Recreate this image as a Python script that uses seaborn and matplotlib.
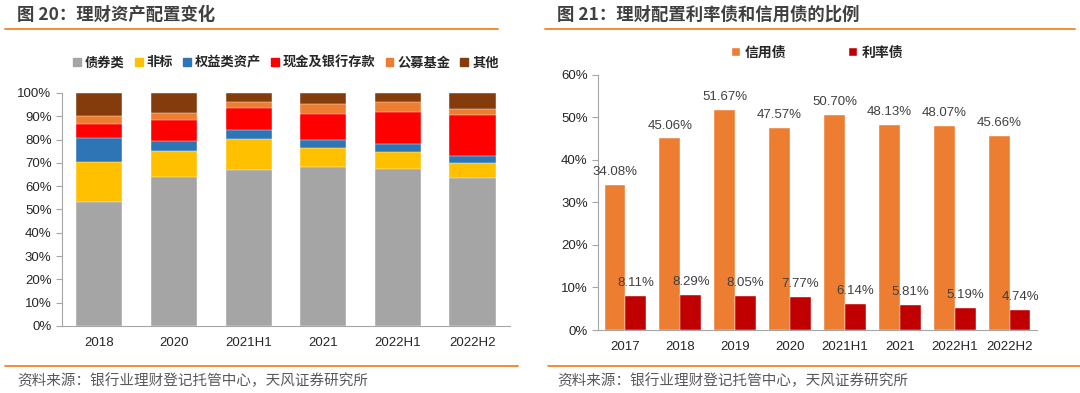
import matplotlib
matplotlib.use("Agg")
import matplotlib.pyplot as plt
import matplotlib.patches as mpatches
from matplotlib.ticker import FixedLocator, PercentFormatter
import numpy as np
import pandas as pd
import seaborn as sns

# ------------------------------
# Data
# ------------------------------
periods_left = ['2018', '2020', '2021H1', '2021', '2022H1', '2022H2']
series_left = ['债券类', '非标', '权益类资产', '现金及银行存款', '公募基金', '其他']
bond = [53.1, 64.1, 66.8, 68.2, 67.5, 63.5]
nonstd = [17.4, 11.0, 13.3, 8.2, 7.2, 6.3]
equity = [10.0, 4.5, 4.2, 3.4, 3.3, 3.2]
cash = [6.0, 9.0, 9.4, 11.3, 14.0, 17.6]
fund = [3.5, 3.0, 2.6, 4.0, 4.0, 2.5]
other = [10.0, 8.4, 3.7, 4.9, 4.0, 6.9]

periods_right = ['2017', '2018', '2019', '2020', '2021H1', '2021', '2022H1', '2022H2']
credit = [34.08, 45.06, 51.67, 47.57, 50.70, 48.13, 48.07, 45.66]
rates = [8.11, 8.29, 8.05, 7.77, 6.14, 5.81, 5.19, 4.74]

colors_left = ['#A5A5A5', '#FFC000', '#2E75B6', '#FF0000', '#ED7D31', '#843C0C']
colors_right = ['#ED7D31', '#C00000']

# ------------------------------
# Style
# ------------------------------
sns.set_style('white')
plt.rcParams['font.family'] = ['Liberation Sans', 'Noto Sans CJK SC', 'DejaVu Sans']
cjk = ['Noto Sans CJK SC', 'DejaVu Sans']
text_dark = '#404040'

fig = plt.figure(figsize=(10.8, 3.93), dpi=100)


def frame_axis(ax, n):
    for side in ['top', 'right']:
        ax.spines[side].set_visible(False)
    for side in ['left', 'bottom']:
        ax.spines[side].set_color('#A6A6A6')
        ax.spines[side].set_linewidth(0.8)
    ax.set_xlim(-0.5, n - 0.5)
    ax.xaxis.set_minor_locator(FixedLocator(np.arange(-0.5, n, 1.0)))
    ax.tick_params(axis='x', which='major', length=0, labelsize=9.5, colors='#262626', pad=8)
    ax.tick_params(axis='x', which='minor', length=4, color='#A6A6A6', direction='out')
    ax.tick_params(axis='y', length=4, color='#A6A6A6', direction='out', labelsize=9.5,
                   labelcolor='#262626', left=True)
    ax.yaxis.set_major_formatter(PercentFormatter(decimals=0))
    ax.set_xlabel('')
    ax.set_ylabel('')


# ------------------------------
# Left: stacked asset allocation
# ------------------------------
axl = fig.add_axes([0.0574, 0.1705, 0.4148, 0.5929])
layers = [bond, nonstd, equity, cash, fund, other]
cum = np.cumsum(np.array(layers), axis=0)
# draw from the tallest cumulative layer down so each visible slice is one series
for i in range(len(layers) - 1, -1, -1):
    df = pd.DataFrame({'period': periods_left, 'value': cum[i]})
    sns.barplot(data=df, x='period', y='value', color=colors_left[i], width=0.62,
                saturation=1, edgecolor='white', linewidth=0.3, ax=axl)
axl.set_ylim(0, 100)
axl.set_yticks(np.arange(0, 101, 10))
frame_axis(axl, len(periods_left))

handles = [mpatches.Patch(color=c, label=s) for c, s in zip(colors_left, series_left)]
leg = axl.legend(handles=handles, loc='lower center', bbox_to_anchor=(0.5, 1.05), ncol=6,
                 frameon=False, handlelength=0.6, handleheight=0.6, handletextpad=0.3,
                 columnspacing=0.75, prop={'family': cjk, 'size': 9.5, 'weight': 'bold'})
for t in leg.get_texts():
    t.set_color('#262626')

# ------------------------------
# Right: credit vs rate bonds
# ------------------------------
axr = fig.add_axes([0.5537, 0.1603, 0.4065, 0.6489])
df_r = pd.DataFrame({
    'period': periods_right * 2,
    'kind': ['信用债'] * len(periods_right) + ['利率债'] * len(periods_right),
    'value': credit + rates,
})
sns.barplot(data=df_r, x='period', y='value', hue='kind', palette=colors_right,
            width=0.76, saturation=1, edgecolor='white', linewidth=0.3, ax=axr)
axr.set_ylim(0, 60)
axr.set_yticks(np.arange(0, 61, 10))
frame_axis(axr, len(periods_right))
for cont in axr.containers:
    axr.bar_label(cont, labels=[f'{v:.2f}%' for v in cont.datavalues], padding=5,
                  fontsize=9.5, color='#404040')
leg_r = axr.legend(loc='lower center', bbox_to_anchor=(0.5, 1.01), ncol=2, frameon=False,
                   handlelength=0.6, handleheight=0.6, handletextpad=0.3, columnspacing=4.5,
                   prop={'family': cjk, 'size': 10, 'weight': 'bold'})
for t in leg_r.get_texts():
    t.set_color('#262626')

# ------------------------------
# Titles, rules and sources
# ------------------------------
fig.text(17 / 1080, 1 - 15 / 393, '图 20：理财资产配置变化', fontsize=12.5, fontweight='bold',
         color=text_dark, va='center', family=cjk)
fig.text(557 / 1080, 1 - 15 / 393, '图 21：理财配置利率债和信用债的比例', fontsize=12.5,
         fontweight='bold', color=text_dark, va='center', family=cjk)
orange_rule = '#F58220'
for x0, x1, y in [(5, 498, 29), (545, 1075, 29), (5, 518, 366), (548, 1080, 366)]:
    fig.add_artist(plt.Line2D([x0 / 1080, x1 / 1080], [1 - y / 393, 1 - y / 393],
                              color=orange_rule, lw=1.3))
src = '资料来源：银行业理财登记托管中心，天风证券研究所'
fig.text(17 / 1080, 1 - 381 / 393, src, fontsize=10.5, color='#595959', va='center', family=cjk)
fig.text(557 / 1080, 1 - 381 / 393, src, fontsize=10.5, color='#595959', va='center', family=cjk)

fig.savefig('out.png', dpi=100)
